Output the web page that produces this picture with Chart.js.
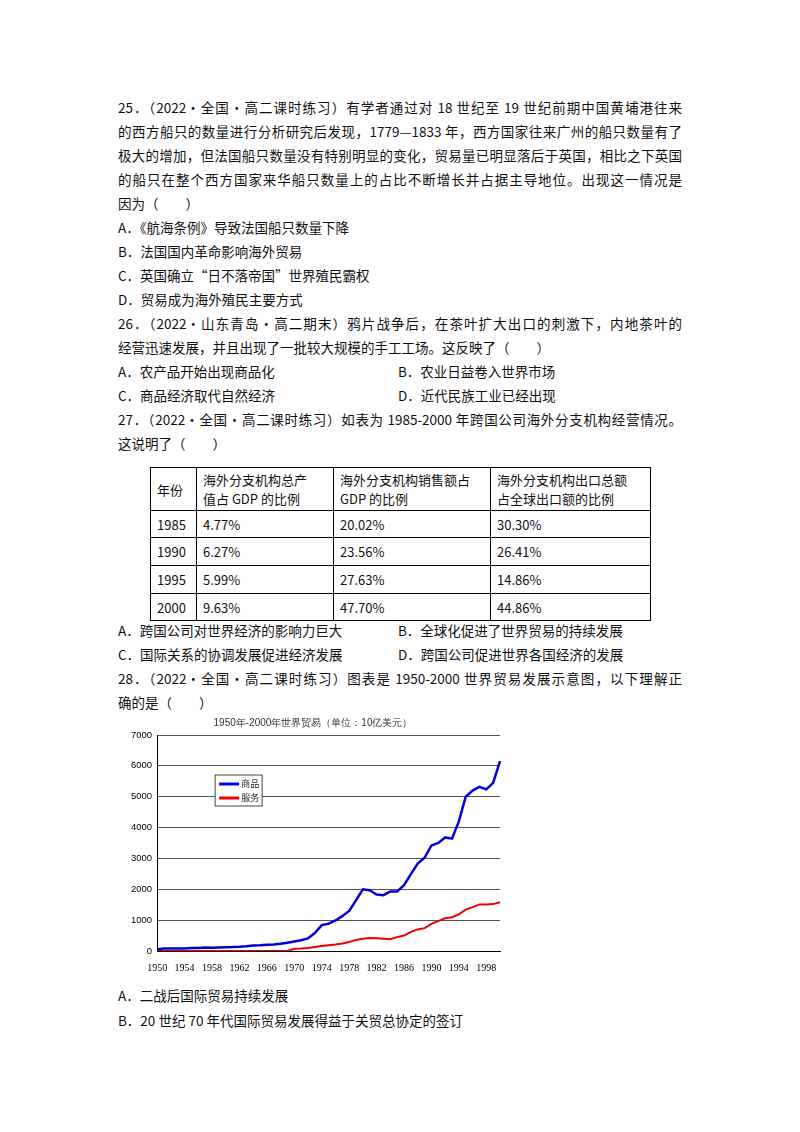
<!DOCTYPE html><html><head><meta charset="utf-8">
<script src="https://cdn.jsdelivr.net/npm/chart.js@4/dist/chart.umd.min.js"></script>
<style>
body{margin:0;width:800px;height:1132px;background:#fff;position:relative;font-family:"Noto Sans CJK SC",sans-serif;font-size:13.5px;color:#111}
.l{position:absolute;left:118px;white-space:nowrap;line-height:20px}
.j{width:564px;text-align:justify;text-align-last:justify;white-space:normal}
table{position:absolute;left:150px;top:467px;border-collapse:collapse;font-size:13px}
td{border:1.5px solid #000;padding:0 6px;line-height:19px;vertical-align:middle}
#wrap{position:absolute;left:110px;top:715px;width:400px;height:262px}
</style></head><body>
<div class="l j" style="top:97px">25．（2022·全国·高二课时练习）有学者通过对 18 世纪至 19 世纪前期中国黄埔港往来</div>
<div class="l j" style="top:121px">的西方船只的数量进行分析研究后发现，1779—1833 年，西方国家往来广州的船只数量有了</div>
<div class="l j" style="top:145px">极大的增加，但法国船只数量没有特别明显的变化，贸易量已明显落后于英国，相比之下英国</div>
<div class="l j" style="top:169px">的船只在整个西方国家来华船只数量上的占比不断增长并占据主导地位。出现这一情况是</div>
<div class="l" style="top:193px">因为（　　）</div>
<div class="l" style="top:217px">A．《航海条例》导致法国船只数量下降</div>
<div class="l" style="top:241px">B．法国国内革命影响海外贸易</div>
<div class="l" style="top:265px">C．英国确立“日不落帝国”世界殖民霸权</div>
<div class="l" style="top:289px">D．贸易成为海外殖民主要方式</div>
<div class="l j" style="top:313px">26．（2022·山东青岛·高二期末）鸦片战争后，在茶叶扩大出口的刺激下，内地茶叶的</div>
<div class="l" style="top:337px">经营迅速发展，并且出现了一批较大规模的手工工场。这反映了（　　）</div>
<div class="l" style="top:361px">A．农产品开始出现商品化</div><div class="l" style="top:361px;left:398px">B．农业日益卷入世界市场</div>
<div class="l" style="top:385px">C．商品经济取代自然经济</div><div class="l" style="top:385px;left:398px">D．近代民族工业已经出现</div>
<div class="l j" style="top:409px">27．（2022·全国·高二课时练习）如表为 1985-2000 年跨国公司海外分支机构经营情况。</div>
<div class="l" style="top:433px">这说明了（　　）</div>
<table>
<tr style="height:43px"><td style="width:33px">年份</td><td style="width:124px">海外分支机构总产<br>值占 GDP 的比例</td><td style="width:144px">海外分支机构销售额占<br>GDP 的比例</td><td style="width:147px">海外分支机构出口总额<br>占全球出口额的比例</td></tr>
<tr style="height:27px"><td>1985</td><td>4.77%</td><td>20.02%</td><td>30.30%</td></tr>
<tr style="height:28px"><td>1990</td><td>6.27%</td><td>23.56%</td><td>26.41%</td></tr>
<tr style="height:28px"><td>1995</td><td>5.99%</td><td>27.63%</td><td>14.86%</td></tr>
<tr style="height:27px"><td>2000</td><td>9.63%</td><td>47.70%</td><td>44.86%</td></tr>
</table>
<div class="l" style="top:620px">A．跨国公司对世界经济的影响力巨大</div><div class="l" style="top:620px;left:398px">B．全球化促进了世界贸易的持续发展</div>
<div class="l" style="top:644px">C．国际关系的协调发展促进经济发展</div><div class="l" style="top:644px;left:398px">D．跨国公司促进世界各国经济的发展</div>
<div class="l j" style="top:668px">28．（2022·全国·高二课时练习）图表是 1950-2000 世界贸易发展示意图，以下理解正</div>
<div class="l" style="top:692px">确的是（　　）</div>
<div id="wrap"><canvas id="c"></canvas></div>
<div class="l" style="top:985px">A．二战后国际贸易持续发展</div>
<div class="l" style="top:1010px">B．20 世纪 70 年代国际贸易发展得益于关贸总协定的签订</div>
<script>
const years=[];for(let y=1950;y<=2000;y++)years.push(String(y));
const goods=[60,80,80,80,85,95,100,110,105,115,125,130,140,155,175,185,200,210,235,270,310,350,410,580,840,880,990,1130,1300,1640,2000,1970,1830,1810,1930,1930,2130,2490,2830,3020,3420,3500,3680,3640,4200,5000,5200,5320,5240,5450,6150];
const services=[0,0,0,0,0,0,0,0,0,0,0,0,0,0,0,0,0,0,0,0,70,80,100,130,160,190,210,240,290,360,400,420,410,400,380,450,500,620,700,740,880,970,1060,1090,1190,1340,1420,1510,1510,1520,1580];
const seriesNames=['商品','服务'];
const yTicks=[0,1000,2000,3000,4000,5000,6000,7000];
const legendBox={id:'lb',afterDraw(ch){const c=ch.ctx,x=ch.chartArea.left+58,y=ch.chartArea.top+40;
c.save();c.fillStyle='#fff';c.fillRect(x,y,47,31);c.strokeStyle='#444';c.lineWidth=1;c.strokeRect(x,y,47,31);
[['#0000dd',seriesNames[0]],['#ee0000',seriesNames[1]]].forEach((s,i)=>{const yy=y+9+i*14;c.strokeStyle=s[0];c.lineWidth=3;c.beginPath();c.moveTo(x+4,yy);c.lineTo(x+24,yy);c.stroke();
c.fillStyle='#222';c.font='9px "Noto Sans CJK SC"';c.textBaseline='middle';c.fillText(s[1],x+26,yy);});c.restore();}};
new Chart(document.getElementById('c'),{type:'line',data:{labels:years,datasets:[
{label:seriesNames[0],data:goods,borderColor:'#0000dd',borderWidth:2.5,pointRadius:0,tension:0},
{label:seriesNames[1],data:services,borderColor:'#ee0000',borderWidth:2,pointRadius:0,tension:0}]},
options:{responsive:true,maintainAspectRatio:false,animation:false,layout:{padding:{left:16,right:10}},
plugins:{legend:{display:false},tooltip:{enabled:false},title:{display:true,text:'1950年-2000年世界贸易（单位：10亿美元）',font:{size:10,weight:'normal'},color:'#333',padding:{top:2,bottom:6}}},
scales:{x:{grid:{display:false},border:{color:'#000'},ticks:{autoSkip:false,maxRotation:0,font:{size:10,family:'"Liberation Serif"'},color:'#000',callback:(v,i)=>i%4===0?years[i]:''}},
y:{min:0,max:7000,afterBuildTicks:a=>{a.ticks=yTicks.map(v=>({value:v}))},grid:{color:'#555',drawTicks:false},border:{color:'#000'},ticks:{font:{size:9.5},color:'#000',padding:5,callback:v=>String(v)}}}},
plugins:[legendBox]});
</script></body></html>
